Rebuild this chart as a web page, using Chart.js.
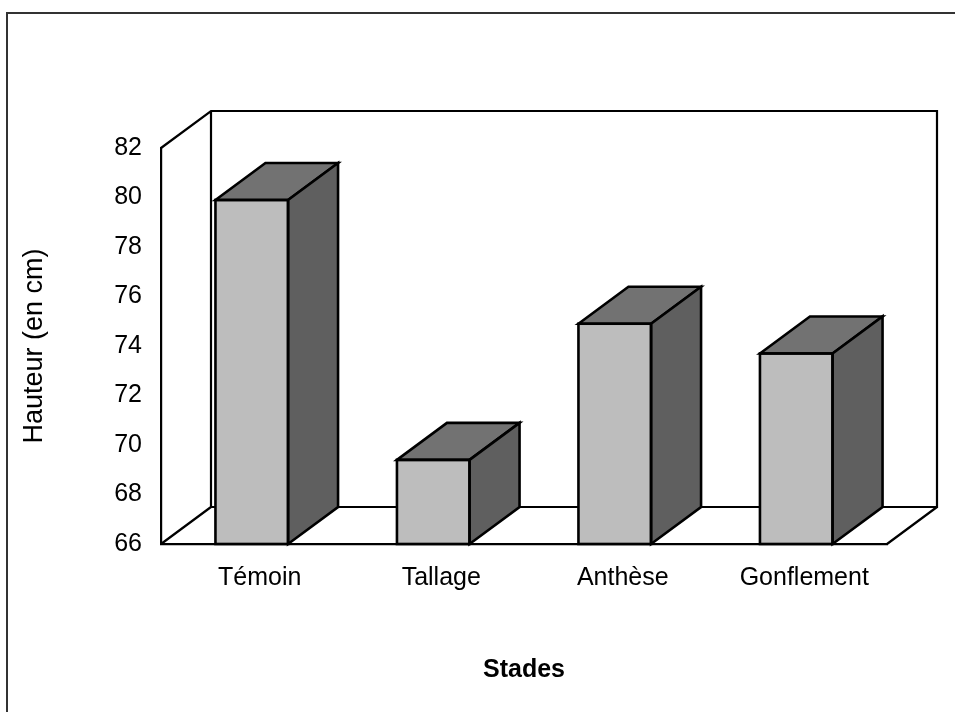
<!DOCTYPE html>
<html>
<head>
<meta charset="utf-8">
<style>
  html, body { margin: 0; padding: 0; background: #fff; }
  #wrap { width: 955px; height: 712px; position: relative; }
</style>
<script src="https://cdn.jsdelivr.net/npm/chart.js@4.4.1/dist/chart.umd.min.js"></script>
</head>
<body>
<div id="wrap"><canvas id="c"></canvas></div>
<script>
// ---- data ----
const categories = ['Témoin', 'Tallage', 'Anthèse', 'Gonflement'];
const hauteur = [79.9, 69.4, 74.9, 73.7];
const yMin = 66;
const yMax = 82;
const yStep = 2;
const yTitle = 'Hauteur (en cm)';
const xTitle = 'Stades';

// ---- style ----
const DX = 50, DY = -37;
const FRONT = '#bdbdbd', TOP = '#727272', SIDE = '#5f5f5f';
const FONT = '"Liberation Sans", Arial, Helvetica, sans-serif';

const box3d = {
  id: 'box3d',
  beforeDraw(chart) {
    const ctx = chart.ctx;
    ctx.save();
    ctx.fillStyle = '#fff';
    ctx.fillRect(0, 0, chart.width, chart.height);
    ctx.strokeStyle = '#333';
    ctx.lineWidth = 2;
    ctx.beginPath();
    ctx.moveTo(7, chart.height + 2);
    ctx.lineTo(7, 13);
    ctx.lineTo(chart.width + 2, 13);
    ctx.stroke();
    ctx.restore();
  },
  beforeDatasetsDraw(chart) {
    const { ctx, chartArea: a } = chart;
    ctx.save();
    ctx.strokeStyle = '#000';
    ctx.lineWidth = 2.2;
    ctx.lineJoin = 'miter';
    ctx.beginPath();
    ctx.moveTo(a.left, a.top);
    ctx.lineTo(a.left + DX, a.top + DY);
    ctx.lineTo(a.right + DX, a.top + DY);
    ctx.lineTo(a.right + DX, a.bottom + DY);
    ctx.lineTo(a.left + DX, a.bottom + DY);
    ctx.lineTo(a.left + DX, a.top + DY);
    ctx.moveTo(a.left, a.bottom);
    ctx.lineTo(a.left + DX, a.bottom + DY);
    ctx.moveTo(a.right, a.bottom);
    ctx.lineTo(a.right + DX, a.bottom + DY);
    ctx.stroke();
    ctx.restore();
  },
  afterDatasetsDraw(chart) {
    const ctx = chart.ctx;
    const a = chart.chartArea;
    const meta = chart.getDatasetMeta(0);
    ctx.save();
    ctx.strokeStyle = '#000';
    ctx.lineWidth = 2.6;
    ctx.lineJoin = 'miter';
    meta.data.forEach(bar => {
      const p = bar.getProps(['x', 'y', 'base', 'width'], true);
      const x = p.x, y = p.y, width = p.width;
      const base = Math.min(p.base, a.bottom);
      const l = x - width / 2, r = x + width / 2;
      ctx.beginPath();
      ctx.moveTo(l, y);
      ctx.lineTo(l + DX, y + DY);
      ctx.lineTo(r + DX, y + DY);
      ctx.lineTo(r, y);
      ctx.closePath();
      ctx.fillStyle = TOP;
      ctx.fill();
      ctx.stroke();
      ctx.beginPath();
      ctx.moveTo(r, y);
      ctx.lineTo(r + DX, y + DY);
      ctx.lineTo(r + DX, base + DY);
      ctx.lineTo(r, base);
      ctx.closePath();
      ctx.fillStyle = SIDE;
      ctx.fill();
      ctx.stroke();
      ctx.strokeRect(l, y, width, base - y);
    });
    ctx.restore();
  }
};

new Chart(document.getElementById('c'), {
  type: 'bar',
  data: {
    labels: categories,
    datasets: [{
      data: hauteur,
      base: yMin,
      backgroundColor: FRONT,
      borderColor: '#000',
      borderWidth: 0,
      barPercentage: 0.4,
      categoryPercentage: 1.0
    }]
  },
  options: {
    responsive: true,
    maintainAspectRatio: false,
    animation: false,
    events: [],
    layout: { padding: { left: 0, top: 148, right: 68, bottom: 0 } },
    plugins: { legend: { display: false }, tooltip: { enabled: false } },
    scales: {
      x: {
        grid: { display: false },
        border: { display: true, color: '#000', width: 2.2 },
        ticks: { color: '#000', font: { family: FONT, size: 25 }, padding: 11, labelOffset: 8, maxRotation: 0 },
        title: { display: true, text: xTitle, color: '#000', font: { family: FONT, size: 25, weight: 'bold' }, padding: { top: 0, bottom: 27 } },
        afterFit(scale) { scale.height = 168; }
      },
      y: {
        min: yMin,
        max: yMax,
        grid: { display: false },
        border: { display: true, color: '#000', width: 2.2 },
        ticks: { stepSize: yStep, color: '#000', font: { family: FONT, size: 25 }, padding: 11 },
        title: { display: true, text: yTitle, color: '#000', font: { family: FONT, size: 27 }, padding: { top: 18, bottom: 0 } },
        afterFit(scale) { scale.width = 161; }
      }
    }
  },
  plugins: [box3d]
});
</script>
</body>
</html>
